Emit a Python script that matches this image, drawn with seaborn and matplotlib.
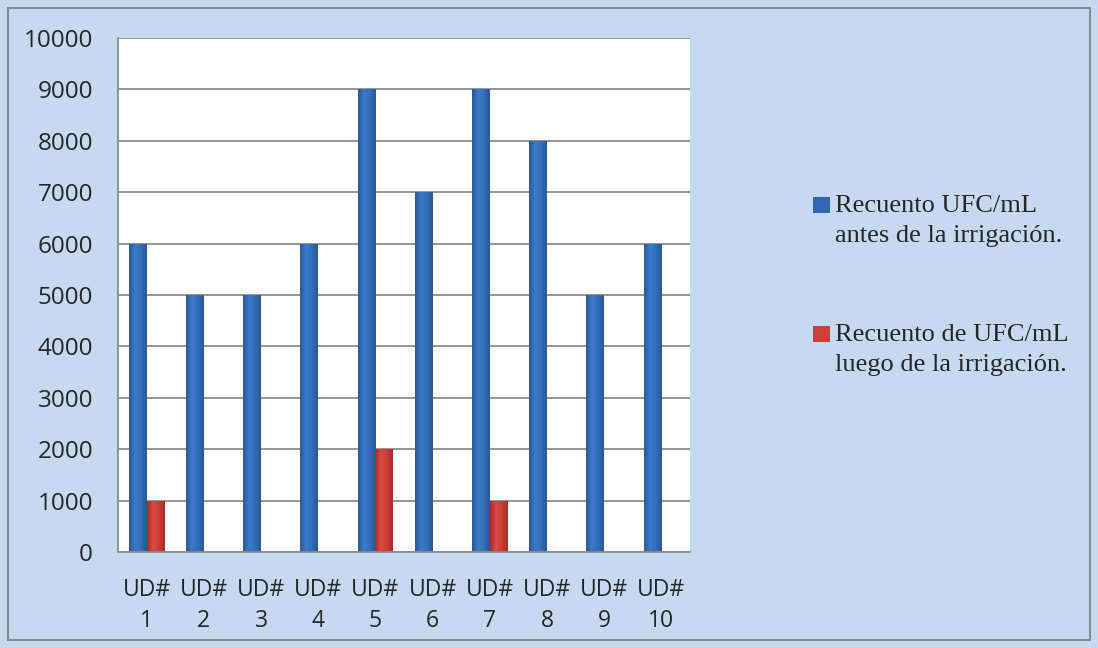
import numpy as np
import pandas as pd
import matplotlib.pyplot as plt
import seaborn as sns
from matplotlib.patches import Rectangle
from matplotlib.colors import LinearSegmentedColormap

# data
unidades = ["UD#\n1", "UD#\n2", "UD#\n3", "UD#\n4", "UD#\n5",
            "UD#\n6", "UD#\n7", "UD#\n8", "UD#\n9", "UD#\n10"]
antes = [6000, 5000, 5000, 6000, 9000, 7000, 9000, 8000, 5000, 6000]
luego = [1000, 0, 0, 0, 2000, 0, 1000, 0, 0, 0]
serie_antes = "Recuento UFC/mL\nantes de la irrigación."
serie_luego = "Recuento de UFC/mL\nluego de la irrigación."

df = pd.DataFrame({
    "unidad": unidades * 2,
    "ufc": antes + luego,
    "serie": [serie_antes] * len(unidades) + [serie_luego] * len(unidades),
})

sns.set_style("white")
plt.rcParams["font.family"] = ["Open Sans", "DejaVu Sans"]

bg = "#C6D9F0"
azul = "#2F67B1"
rojo = "#C9413A"
fig = plt.figure(figsize=(10.98, 6.48), dpi=100, facecolor=bg)
ax = fig.add_axes([0.1075, 0.148, 0.5209, 0.7934])
ax.set_facecolor("white")

sns.barplot(data=df, x="unidad", y="ufc", hue="serie",
            palette=[azul, rojo], width=0.62, dodge=True,
            saturation=1, ax=ax, edgecolor="none")

ax.set_ylim(0, 10000)
ax.set_xlim(-0.5, len(unidades) - 0.5)
ax.set_yticks(np.arange(0, 10001, 1000))
ax.yaxis.grid(True, color="#8C8C8C", linewidth=1.3)
ax.set_axisbelow(True)
ax.set_xlabel("")
ax.set_ylabel("")

# shading like cylinders
grad = {
    azul: LinearSegmentedColormap.from_list("a", ["#2A5896", "#3A7BCB", "#336DB7", "#2A5896"]),
    rojo: LinearSegmentedColormap.from_list("r", ["#A52C26", "#DA4B41", "#C93E36", "#A52C26"]),
}
for p in list(ax.patches):
    h = p.get_height()
    if h <= 0:
        continue
    c = azul if p.get_facecolor()[2] > 0.5 else rojo
    x0 = p.get_x()
    w = p.get_width()
    im = ax.imshow(np.linspace(0, 1, 64).reshape(1, -1), cmap=grad[c],
                   extent=[x0, x0 + w, 0, h], aspect="auto", zorder=p.get_zorder() + 0.1)
    im.set_clip_path(p)
ax.set_xlim(-0.5, len(unidades) - 0.5)
ax.set_ylim(0, 10000)

for s in ["top", "right"]:
    ax.spines[s].set_visible(False)
for s in ["left", "bottom"]:
    ax.spines[s].set_color("#8C8C8C")
    ax.spines[s].set_linewidth(1.3)

ax.tick_params(axis="y", length=8, color="#8C8C8C", width=1.3,
               labelsize=17.5, pad=10)
ax.tick_params(axis="x", which="major", length=0, labelsize=16.5, pad=19)
ax.set_xticks(np.arange(-0.5, len(unidades)), minor=True)
ax.tick_params(axis="x", which="minor", length=8, color="#8C8C8C", width=1.3)
for lab in ax.get_xticklabels():
    lab.set_linespacing(1.35)

handles, labels = ax.get_legend_handles_labels()
fs = 19
leg = ax.legend(handles, labels, loc="center left", bbox_to_anchor=(1.174, 0.519),
                frameon=False, handlelength=0.62, handleheight=2.6,
                handletextpad=0.2, labelspacing=2.9,
                prop={"family": "Liberation Serif", "size": fs})
for t in leg.get_texts():
    t.set_linespacing(1.5)
for p in leg.get_patches():
    side = p.get_width()
    top = p.get_y() + p.get_height()
    p.set_height(side)
    p.set_y(top - side - 0.05 * fs)

fig.patches.append(Rectangle((8 / 1098, 8 / 648), 1 - 16 / 1098, 1 - 16 / 648,
                             transform=fig.transFigure, fill=False,
                             edgecolor="#8C8C8C", linewidth=1.5))

fig.savefig("out.png", dpi=100, facecolor=bg)
